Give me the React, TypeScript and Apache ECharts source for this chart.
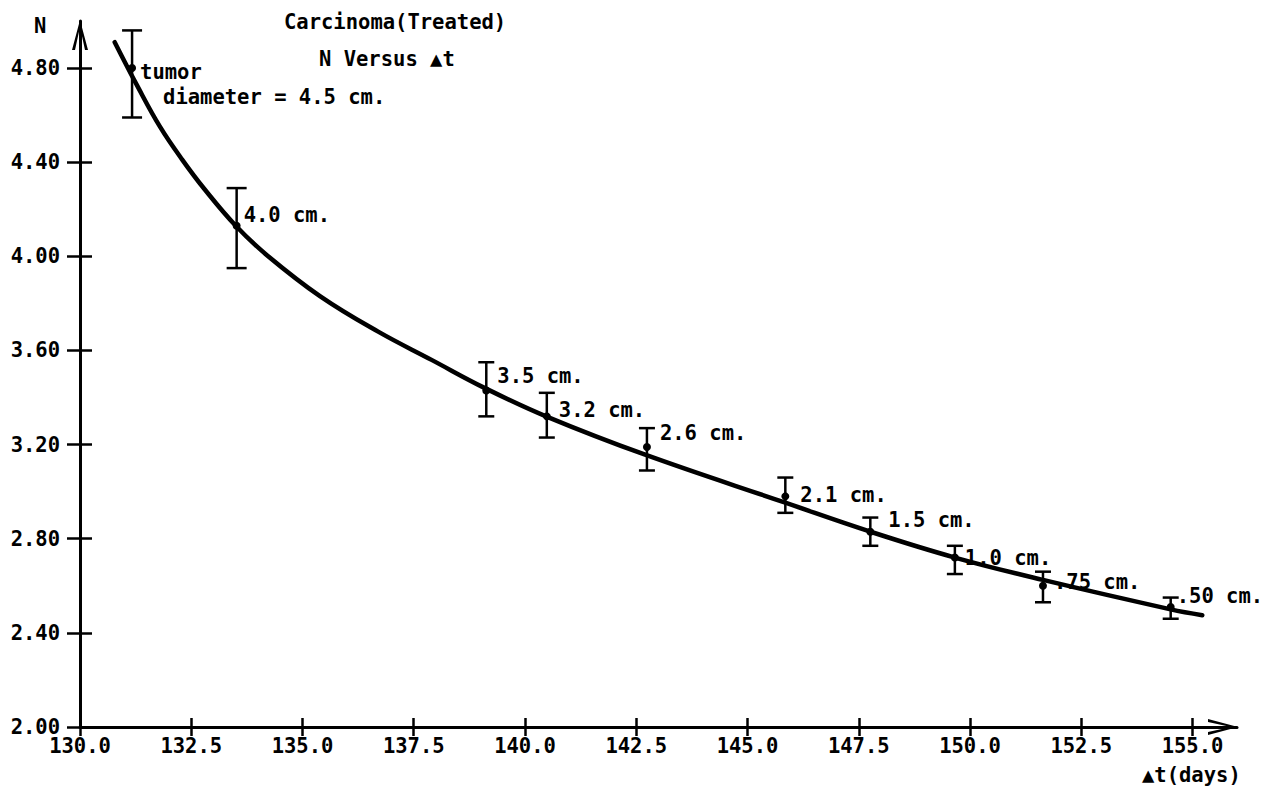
import React, { useEffect, useRef } from "react";
import * as echarts from "echarts";

// ---- data ----
const xTickValues = [130, 132.5, 135, 137.5, 140, 142.5, 145, 147.5, 150, 152.5, 155];
const yTickValues = [2.0, 2.4, 2.8, 3.2, 3.6, 4.0, 4.4, 4.8];

const diameterLabels = ["tumor", "4.0 cm.", "3.5 cm.", "3.2 cm.", "2.6 cm.", "2.1 cm.", "1.5 cm.", "1.0 cm.", ".75 cm.", ".50 cm."];
const pointT = [131.17, 133.52, 139.13, 140.49, 142.74, 145.85, 147.76, 149.66, 151.64, 154.51];
const pointN = [4.80, 4.13, 3.43, 3.32, 3.19, 2.98, 2.83, 2.72, 2.60, 2.51];
const errHigh = [4.96, 4.29, 3.55, 3.42, 3.27, 3.06, 2.89, 2.77, 2.66, 2.55];
const errLow = [4.59, 3.95, 3.32, 3.23, 3.09, 2.91, 2.77, 2.65, 2.53, 2.46];

const curveT = [130.78, 131.3, 131.8, 132.3, 132.8, 133.5, 134.2, 135.4, 136.7, 137.9, 139.1, 140.5, 142.7, 145.85, 147.76, 149.66, 151.64, 154.51, 155.22];
const curveN = [4.91, 4.72, 4.55, 4.41, 4.285, 4.13, 4.005, 3.83, 3.68, 3.56, 3.44, 3.318, 3.157, 2.953, 2.83, 2.72, 2.625, 2.50, 2.475];

// ---- styling ----
const FONT = "'DejaVu Sans Mono', monospace";
const FS = 20.5;
const labelNudge: [number, number][] = [
  [-1, 16], [-2, -11], [2, -14], [3, -6], [4, -14], [6, -1], [9, -12], [1, 0], [2, -4], [-3, -11],
];
const chevron = "path://M8,0 L16,30 L13,30 L8,7 L3,30 L0,30 Z";

export default function App() {
  const ref = useRef<HTMLDivElement>(null);
  useEffect(() => {
    if (!ref.current) return;
    const chart = echarts.init(ref.current, null, { renderer: "svg" });

    const txt = { fontFamily: FONT, fontSize: FS, fontWeight: "bold" as const, color: "#000" };
    const tickStyle = { color: "#000", width: 2.5 };

    const option: any = {
      animation: false,
      backgroundColor: "#fff",
      textStyle: { fontFamily: FONT },
      grid: { left: 80, right: 45, top: 21, bottom: 67, containLabel: false, outerBoundsMode: "none" },
      xAxis: [
        {
          type: "value", min: 130, max: 156, position: "bottom",
          splitLine: { show: false },
          axisLine: {
            show: true, onZero: false,
            lineStyle: { color: "#000", width: 3 },
            symbol: ["none", chevron], symbolSize: [16, 30], symbolOffset: [0, -14],
          },
          axisTick: { show: true, inside: false, length: 9, customValues: xTickValues, lineStyle: tickStyle },
          axisLabel: {
            ...txt, margin: 8, customValues: xTickValues,
            formatter: (v: number) => v.toFixed(1),
          },
        },
        {
          type: "value", min: 130, max: 156, position: "bottom",
          splitLine: { show: false },
          axisLine: { show: false },
          axisTick: { show: true, inside: true, length: 9, customValues: xTickValues, lineStyle: tickStyle },
          axisLabel: { show: false },
        },
      ],
      yAxis: [
        {
          type: "value", min: 2, max: 5, position: "left",
          splitLine: { show: false },
          axisLine: {
            show: true, onZero: false,
            lineStyle: { color: "#000", width: 3 },
            symbol: ["none", chevron], symbolSize: [16, 30], symbolOffset: [0, -14],
          },
          axisTick: { show: true, inside: false, length: 13, customValues: yTickValues, lineStyle: tickStyle },
          axisLabel: {
            ...txt, margin: 20, customValues: yTickValues, padding: [0, 0, 8, 0],
            formatter: (v: number) => v.toFixed(2),
          },
        },
        {
          type: "value", min: 2, max: 5, position: "left",
          splitLine: { show: false },
          axisLine: { show: false },
          axisTick: { show: true, inside: true, length: 12, customValues: yTickValues, lineStyle: tickStyle },
          axisLabel: { show: false },
        },
      ],
      series: [
        {
          type: "line",
          xAxisIndex: 0, yAxisIndex: 0,
          data: curveT.map((t, i) => [t, curveN[i]]),
          smooth: 0.4,
          symbol: "none",
          lineStyle: { color: "#000", width: 4.5, cap: "round" },
          z: 3,
        },
        {
          type: "custom",
          xAxisIndex: 0, yAxisIndex: 0,
          data: pointT.map((t, i) => [t, errLow[i], errHigh[i]]),
          encode: { x: 0, y: [1, 2] },
          renderItem: (params: any, api: any) => {
            const t = api.value(0);
            const top = api.coord([t, api.value(2)]);
            const bot = api.coord([t, api.value(1)]);
            const hw = params.dataIndex < 2 ? 10 : 8;
            const st = { stroke: "#000", lineWidth: 2.5 };
            return {
              type: "group",
              children: [
                { type: "line", shape: { x1: top[0], y1: top[1], x2: bot[0], y2: bot[1] }, style: st },
                { type: "line", shape: { x1: top[0] - hw, y1: top[1], x2: top[0] + hw, y2: top[1] }, style: st },
                { type: "line", shape: { x1: bot[0] - hw, y1: bot[1], x2: bot[0] + hw, y2: bot[1] }, style: st },
              ],
            };
          },
          z: 4,
        },
        {
          type: "scatter",
          xAxisIndex: 0, yAxisIndex: 0,
          symbolSize: 8,
          itemStyle: { color: "#000", opacity: 1 },
          data: pointT.map((t, i) => ({
            value: [t, pointN[i]],
            name: diameterLabels[i],
            label: {
              offset: labelNudge[i],
              formatter: i === 0 ? "{a|tumor}\n{b|diameter = 4.5 cm.}" : diameterLabels[i],
            },
          })),
          label: {
            show: true,
            position: "right",
            distance: 5,
            ...txt,
            opacity: 1,
            textBorderWidth: 0,
            rich: {
              a: { ...txt, lineHeight: 25 },
              b: { ...txt, lineHeight: 25, padding: [0, 0, 0, 23] },
            },
          },
          z: 5,
        },
      ],
      graphic: [
        { type: "text", left: 284, top: 11, style: { text: "Carcinoma(Treated)", font: `bold ${FS}px ${FONT}`, fill: "#000" } },
        { type: "text", left: 319, top: 48, style: { text: "N Versus \u25B2t", font: `bold ${FS}px ${FONT}`, fill: "#000" } },
        { type: "text", left: 34, top: 15, style: { text: "N", font: `bold ${FS}px ${FONT}`, fill: "#000" } },
        { type: "text", left: 1142, top: 764, style: { text: "\u25B2t(days)", font: `bold ${FS}px ${FONT}`, fill: "#000" } },
      ],
    };

    chart.setOption(option);
    return () => chart.dispose();
  }, []);

  return <div ref={ref} style={{ position: "fixed", left: 0, top: 0, width: 1282, height: 794, background: "#fff" }} />;
}
